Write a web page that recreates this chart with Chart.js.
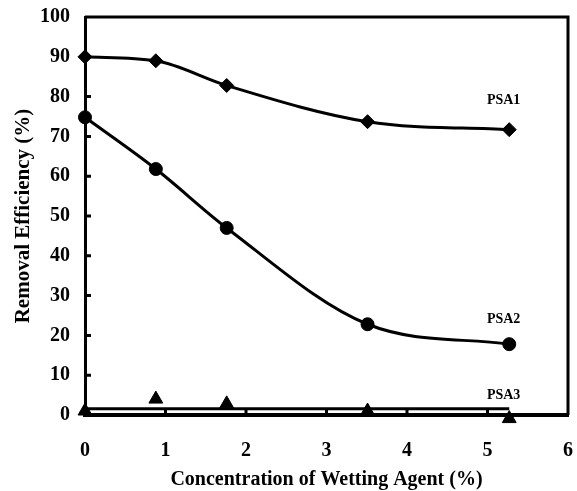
<!DOCTYPE html>
<html>
<head>
<meta charset="utf-8">
<script src="https://cdn.jsdelivr.net/npm/chart.js@4/dist/chart.umd.min.js"></script>
<style>
  html, body { margin: 0; padding: 0; background: #fff; }
  #wrap { width: 577px; height: 491px; position: relative; }
</style>
</head>
<body>
<div id="wrap"><canvas id="c"></canvas></div>
<script>
// ---- data ----
const concentration = [0, 0.88, 1.76, 3.51, 5.27];
const psa1 = [90, 89, 82.8, 73.7, 71.7];
const psa2 = [74.8, 61.8, 47, 22.8, 17.8];
const psa3 = [1, 4, 2.8, 1, -0.9];
const psa3FitX = [0, 5.27];
const psa3FitY = [1.6, 1.6];
const seriesNames = ['PSA1', 'PSA2', 'PSA3'];
const labelX = [5.2, 5.2, 5.2];
const labelY = [79, 24, 5];
const xTicks = [0, 1, 2, 3, 4, 5, 6];
const yTicks = [0, 10, 20, 30, 40, 50, 60, 70, 80, 90, 100];

const pts = (xs, ys) => xs.map((x, i) => ({ x: x, y: ys[i] }));
const FONT = 'Liberation Serif, Times New Roman, serif';

const framePlugin = {
  id: 'frame',
  afterDatasetsDraw(chart) {
    const { ctx, chartArea: a, scales } = chart;
    ctx.save();
    ctx.strokeStyle = '#000';
    ctx.lineWidth = 3;
    ctx.beginPath();
    ctx.moveTo(a.left, a.top);
    ctx.lineTo(a.right, a.top);
    ctx.lineTo(a.right, a.bottom);
    ctx.stroke();
    // inner tick marks
    ctx.beginPath();
    xTicks.forEach(v => {
      if (v === 0 || v === 6) return;
      const px = scales.x.getPixelForValue(v);
      ctx.moveTo(px, a.bottom);
      ctx.lineTo(px, a.bottom - 7);
    });
    yTicks.forEach(v => {
      if (v === 0 || v === 100) return;
      const py = scales.y.getPixelForValue(v);
      ctx.moveTo(a.left, py);
      ctx.lineTo(a.left + 6, py);
    });
    ctx.stroke();
    // series labels
    ctx.fillStyle = '#000';
    ctx.font = 'bold 14px ' + FONT;
    ctx.textAlign = 'center';
    ctx.textBaseline = 'middle';
    seriesNames.forEach((n, i) => {
      ctx.fillText(n, scales.x.getPixelForValue(labelX[i]), scales.y.getPixelForValue(labelY[i]));
    });
    ctx.restore();
  }
};

new Chart(document.getElementById('c'), {
  type: 'scatter',
  data: {
    datasets: [
      {
        label: 'PSA1', data: pts(concentration, psa1), showLine: true, clip: false,
        borderColor: '#000', backgroundColor: '#000', borderWidth: 3,
        cubicInterpolationMode: 'monotone', pointStyle: 'rectRot', pointRadius: 7, pointBorderWidth: 1
      },
      {
        label: 'PSA2', data: pts(concentration, psa2), showLine: true, clip: false,
        borderColor: '#000', backgroundColor: '#000', borderWidth: 3,
        cubicInterpolationMode: 'monotone', pointStyle: 'circle', pointRadius: 6.5, pointBorderWidth: 1
      },
      {
        label: 'PSA3 fit', data: pts(psa3FitX, psa3FitY), showLine: true, clip: false,
        borderColor: '#000', backgroundColor: '#000', borderWidth: 3, pointRadius: 0
      },
      {
        label: 'PSA3', data: pts(concentration, psa3), showLine: false, clip: false,
        borderColor: '#000', backgroundColor: '#000',
        pointStyle: 'triangle', pointRadius: 8, pointBorderWidth: 1
      }
    ]
  },
  options: {
    responsive: true,
    maintainAspectRatio: false,
    animation: false,
    layout: { padding: { top: 17, right: 7, left: 0, bottom: 0 } },
    plugins: { legend: { display: false }, tooltip: { enabled: false } },
    scales: {
      x: {
        type: 'linear', min: 0, max: 6,
        afterFit(s) { s.height = 76; s.paddingLeft = 0; s.paddingRight = 0; },
        afterBuildTicks(s) { s.ticks = xTicks.map(v => ({ value: v })); },
        grid: { drawOnChartArea: false, drawTicks: false },
        border: { color: '#000', width: 4 },
        ticks: { color: '#000', padding: 24, font: { family: FONT, size: 20, weight: 'bold' } },
        title: {
          display: true, text: 'Concentration of Wetting Agent (%)', color: '#000',
          font: { family: FONT, size: 20, weight: 'bold' }, padding: { top: 0, bottom: -1 }
        }
      },
      y: {
        min: 0, max: 100,
        afterFit(s) { s.width = 85; s.paddingTop = 0; s.paddingBottom = 0; },
        afterBuildTicks(s) { s.ticks = yTicks.map(v => ({ value: v })); },
        grid: { drawOnChartArea: false, drawTicks: false },
        border: { color: '#000', width: 3 },
        ticks: { color: '#000', padding: 15, font: { family: FONT, size: 20, weight: 'bold' } },
        title: {
          display: true, text: 'Removal Efficiency (%)', color: '#000',
          font: { family: FONT, size: 21, weight: 'bold' }, padding: { top: 11, bottom: 0 }
        }
      }
    }
  },
  plugins: [framePlugin]
});
</script>
</body>
</html>
